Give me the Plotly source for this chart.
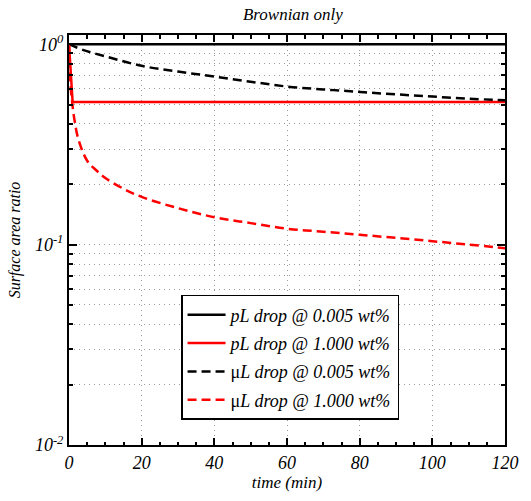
import plotly.graph_objects as go

# ---- data ----
t_pl_low = [0, 120]
sa_pl_low = [1.0, 1.0]

t_pl_high = [0, 1, 120]
sa_pl_high = [1.0, 0.515, 0.515]

t_ul_low = [0, 4, 10, 20, 30, 40, 50, 60, 70, 80, 90, 100, 110, 120]
sa_ul_low = [1.0, 0.935, 0.87, 0.78, 0.73, 0.69, 0.65, 0.615, 0.595, 0.578, 0.562, 0.548, 0.535, 0.525]

t_ul_high = [0, 0.25, 0.5, 1, 1.5, 2.5, 5, 7.5, 10, 15, 20, 30, 40, 50, 60, 70, 80, 90, 100, 110, 120]
sa_ul_high = [1.0, 0.75, 0.6, 0.49, 0.42, 0.34, 0.262, 0.235, 0.215, 0.19, 0.173, 0.152, 0.137, 0.128,
              0.12, 0.116, 0.112, 0.108, 0.104, 0.1, 0.096]

legend_names = ["<i>pL drop @ 0.005 wt%</i>", "<i>pL drop @ 1.000 wt%</i>",
                "μ<i>L drop @ 0.005 wt%</i>", "μ<i>L drop @ 1.000 wt%</i>"]

x_ticks = [0, 20, 40, 60, 80, 100, 120]
y_ticks = [0.01, 0.1, 1]
y_ticklabels = ["<i>10<sup>-2</sup></i>", "<i>10<sup>-1</sup></i>", "<i>10<sup>0</sup></i>"]

FONT = "Liberation Serif"
GRID = "#9a9a9a"
GDASH = "1px,4px"

fig = go.Figure()
fig.add_trace(go.Scatter(x=t_pl_low, y=sa_pl_low, mode="lines", name=legend_names[0], legendgroup="a",
                         line=dict(color="black", width=2.5)))
fig.add_trace(go.Scatter(x=t_pl_high, y=sa_pl_high, mode="lines", name=legend_names[1], legendgroup="b",
                         line=dict(color="red", width=2.5)))
fig.add_trace(go.Scatter(x=t_ul_low, y=sa_ul_low, mode="lines", name=legend_names[2], legendgroup="c",
                         line=dict(color="black", width=2.5, dash="9px,5px"), line_shape="spline"))
fig.add_trace(go.Scatter(x=t_ul_high, y=sa_ul_high, mode="lines", name=legend_names[3], legendgroup="d",
                         line=dict(color="red", width=2.5, dash="9px,5px"), line_shape="spline"))

fig.update_layout(
    width=531, height=501,
    margin=dict(l=69, r=14, t=35, b=48),
    paper_bgcolor="white", plot_bgcolor="white",
    font=dict(family=FONT, color="black", size=15),
    title=dict(text="<i>Brownian only</i>", x=0.5516, xanchor="center", y=0.972, yanchor="middle",
               font=dict(family=FONT, size=17, color="black")),
    showlegend=True,
    legend=dict(x=0.257, y=0.366, xanchor="left", yanchor="top",
                bgcolor="white", bordercolor="black", borderwidth=1.5,
                font=dict(family=FONT, size=18, color="black"),
                itemwidth=38, tracegroupgap=2),
)

fig.update_xaxes(
    range=[0, 120], tickvals=x_ticks, ticktext=[f"<i>{v}</i>" for v in x_ticks],
    showline=True, linecolor="black", linewidth=2, mirror="allticks",
    ticks="inside", ticklen=7, tickwidth=1.5, tickcolor="black",
    tickfont=dict(family=FONT, size=18, color="black"),
    showgrid=True, gridcolor=GRID, griddash=GDASH, gridwidth=1,
    zeroline=False,
    minor=dict(dtick=5, ticks="inside", ticklen=3.5, tickwidth=1.5, tickcolor="black", showgrid=False),
    title=dict(text="<i>time (min)</i>", font=dict(family=FONT, size=17, color="black"), standoff=5),
)

fig.update_yaxes(
    type="log", range=[-2, 0.046], tickvals=y_ticks, ticktext=y_ticklabels,
    showline=True, linecolor="black", linewidth=2, mirror="allticks",
    ticks="inside", ticklen=8, tickwidth=1.5, tickcolor="black",
    tickfont=dict(family=FONT, size=18, color="black"),
    showgrid=True, gridcolor=GRID, griddash=GDASH, gridwidth=1,
    zeroline=False,
    minor=dict(dtick="D1", ticks="inside", ticklen=4, tickwidth=1.5, tickcolor="black",
               showgrid=True, gridcolor=GRID, griddash=GDASH, gridwidth=1),
    title=dict(text="<i>Surface area ratio</i>", font=dict(family=FONT, size=16, color="black"),
               standoff=10),
)

fig.write_html("out.html")
